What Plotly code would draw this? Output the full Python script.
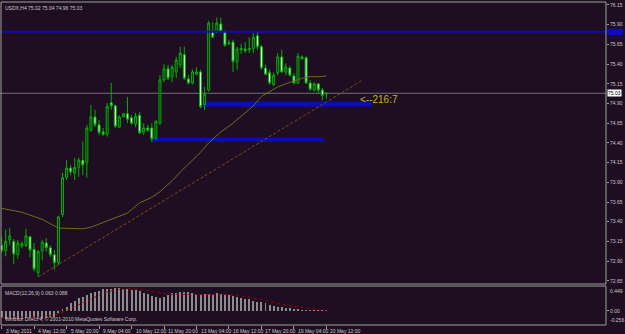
import plotly.graph_objects as go

# ---------------- data ----------------
bar_idx = list(range(81))
opens = [73.10, 73.03, 73.17, 73.15, 72.98, 73.09, 73.10, 73.21, 73.05, 72.75,
         73.03, 73.13, 73.07, 72.98, 72.88, 73.49, 73.96, 74.08, 74.02, 74.09,
         74.18, 74.15, 74.56, 74.73, 74.63, 74.54, 74.51, 74.91, 74.87, 74.60,
         74.73, 74.77, 74.72, 74.64, 74.75, 74.54, 74.59, 74.59, 74.46, 74.65,
         75.20, 75.34, 75.24, 75.30, 75.39, 75.52, 75.21, 75.16, 75.27, 75.30,
         74.89, 75.07, 75.81, 75.80, 75.91, 75.81, 75.66, 75.68, 75.43, 75.58,
         75.59, 75.58, 75.60, 75.76, 75.62, 75.35, 75.29, 75.14, 75.29, 75.49,
         75.30, 75.35, 75.25, 75.16, 75.49, 75.48, 75.16, 75.07, 75.15, 75.07,
         75.02]
highs = [73.21, 73.30, 73.32, 73.18, 73.17, 73.15, 73.31, 73.22, 73.13, 73.04,
         73.17, 73.19, 73.10, 73.04, 73.47, 74.02, 74.18, 74.12, 74.21, 74.21,
         74.42, 74.63, 74.88, 74.82, 74.69, 74.59, 74.91, 75.16, 74.88, 74.75,
         74.78, 74.98, 74.75, 74.78, 74.79, 74.65, 74.63, 74.65, 74.69, 75.26,
         75.40, 75.39, 75.39, 75.49, 75.62, 75.62, 75.26, 75.33, 75.36, 75.33,
         75.11, 75.95, 75.93, 75.99, 75.99, 75.83, 75.71, 75.71, 75.62, 75.66,
         75.68, 75.74, 75.80, 75.80, 75.64, 75.39, 75.33, 75.29, 75.54, 75.58,
         75.41, 75.38, 75.29, 75.54, 75.51, 75.50, 75.20, 75.17, 75.16, 75.10,
         75.04]
lows = [73.01, 72.96, 73.10, 72.86, 72.93, 73.07, 73.08, 72.95, 72.77, 72.70,
        72.91, 73.02, 72.95, 72.79, 72.85, 73.46, 73.93, 73.99, 73.93, 73.97,
        73.99, 73.96, 74.54, 74.60, 74.50, 74.49, 74.48, 74.82, 74.59, 74.59,
        74.72, 74.65, 74.63, 74.60, 74.51, 74.50, 74.54, 74.41, 74.44, 74.63,
        75.17, 75.20, 75.17, 75.22, 75.35, 75.20, 75.14, 75.14, 75.26, 74.84,
        74.82, 75.05, 75.73, 75.80, 75.80, 75.62, 75.64, 75.30, 75.33, 75.53,
        75.54, 75.54, 75.54, 75.58, 75.33, 75.26, 75.14, 75.12, 75.26, 75.29,
        75.26, 75.24, 75.14, 75.15, 75.45, 75.15, 75.06, 75.05, 75.02, 74.94,
        74.96]
closes = [73.03, 73.15, 73.22, 72.99, 73.13, 73.12, 73.22, 73.04, 72.80, 73.02,
          73.14, 73.07, 72.98, 72.88, 73.46, 73.96, 74.08, 74.03, 74.09, 74.18,
          74.12, 74.59, 74.73, 74.63, 74.53, 74.51, 74.86, 74.87, 74.61, 74.73,
          74.77, 74.70, 74.65, 74.74, 74.53, 74.59, 74.56, 74.45, 74.67, 75.20,
          75.34, 75.22, 75.36, 75.45, 75.54, 75.22, 75.16, 75.30, 75.30, 74.86,
          75.02, 75.92, 75.74, 75.92, 75.81, 75.64, 75.67, 75.43, 75.59, 75.60,
          75.57, 75.60, 75.74, 75.62, 75.35, 75.27, 75.16, 75.26, 75.49, 75.30,
          75.36, 75.26, 75.16, 75.50, 75.47, 75.16, 75.08, 75.15, 75.07, 75.00,
          75.03]

# moving average readings (bar index, price)
ma_bars = [0, 5, 10, 14, 20, 22, 25, 28, 31, 34, 37, 39, 42, 44, 47, 49, 51, 54,
           57, 59, 62, 64, 66, 68, 70, 72, 74, 76, 78, 80]
ma_vals = [73.57, 73.52, 73.43, 73.32, 73.31, 73.33, 73.39, 73.45, 73.51, 73.64,
           73.71, 73.78, 73.92, 74.03, 74.18, 74.28, 74.40, 74.54, 74.65, 74.74,
           74.87, 74.99, 75.05, 75.11, 75.15, 75.19, 75.22, 75.24, 75.24, 75.25]

# trend line (bar index, price)
trend_bars = [9, 89]
trend_vals = [72.70, 75.20]

# MACD(12,26,9)
macd_main = [-0.136, -0.148, -0.148, -0.142, -0.148, -0.142, -0.130, -0.123, -0.136, -0.148,
             -0.142, -0.130, -0.117, -0.105, -0.045, 0.027, 0.075, 0.136, 0.184, 0.226,
             0.256, 0.280, 0.316, 0.347, 0.365, 0.389, 0.395, 0.401, 0.407, 0.407,
             0.401, 0.395, 0.383, 0.371, 0.353, 0.328, 0.298, 0.268, 0.244, 0.226,
             0.256, 0.286, 0.316, 0.328, 0.341, 0.341, 0.335, 0.322, 0.310, 0.304,
             0.298, 0.304, 0.310, 0.316, 0.310, 0.298, 0.286, 0.262, 0.244, 0.226,
             0.220, 0.208, 0.184, 0.166, 0.160, 0.136, 0.112, 0.093, 0.075, 0.063,
             0.057, 0.045, 0.033, 0.027, 0.015, 0.009, 0.009, 0.009, 0.015, 0.009,
             0.003]
macd_signal = [-0.117, -0.117, -0.123, -0.123, -0.123, -0.123, -0.123, -0.117, -0.117, -0.111,
               -0.105, -0.099, -0.087, -0.075, -0.057, -0.027, 0.009, 0.045, 0.075, 0.112,
               0.148, 0.178, 0.220, 0.256, 0.286, 0.316, 0.341, 0.365, 0.377, 0.389,
               0.395, 0.395, 0.395, 0.395, 0.389, 0.377, 0.365, 0.347, 0.335, 0.316,
               0.304, 0.298, 0.298, 0.298, 0.298, 0.304, 0.304, 0.304, 0.304, 0.304,
               0.304, 0.304, 0.304, 0.304, 0.304, 0.304, 0.298, 0.292, 0.286, 0.274,
               0.262, 0.250, 0.232, 0.214, 0.202, 0.184, 0.166, 0.148, 0.136, 0.118,
               0.106, 0.093, 0.081, 0.069, 0.057, 0.045, 0.033, 0.027, 0.015, 0.009,
               0.003]

price_ticks = [76.15, 75.90, 75.65, 75.40, 75.15, 74.90, 74.65, 74.40, 74.15,
               73.90, 73.65, 73.40, 73.15, 72.90, 72.65]
time_tick_bars = [0, 8, 16, 24, 32, 40, 48, 56, 64, 72, 80]
time_tick_labels = ["3 May 2011", "4 May 12:00", "5 May 20:00", "9 May 04:00",
                    "10 May 12:00", "11 May 20:00", "13 May 04:00", "16 May 12:00",
                    "17 May 20:00", "19 May 04:00", "20 May 12:00"]

hline_level = 75.81
zone_upper = (49.3, 91.2, 74.86, 74.925)
zone_lower = (37.0, 79.3, 74.415, 74.466)
last_price = 75.03
zone_text = "<--216:7"

# ---------------- style ----------------
W, H = 625, 334
BG = "#1f0e21"
FRAME = "#a0a0a0"
TXT = "#c8c8c8"
GREEN = "#00b000"
BLUE = "#0c0cb8"
FONT = "Liberation Sans"


def px(x):
    return x / W


def py(y):
    return 1 - y / H


x_dom = [px(1), px(606)]
price_dom = [py(284), py(2)]
macd_dom = [py(325), py(286)]
x_range = [(1 - 1.6) / 4.06, (606 - 1.6) / 4.06]

fig = go.Figure()

fig.add_trace(go.Candlestick(
    x=bar_idx, open=opens, high=highs, low=lows, close=closes,
    increasing=dict(line=dict(color=GREEN, width=1), fillcolor="#0e2a12"),
    decreasing=dict(line=dict(color=GREEN, width=1), fillcolor="#e8ffe8"),
    whiskerwidth=0, xaxis="x", yaxis="y", showlegend=False, hoverinfo="skip"))

fig.add_trace(go.Scatter(x=ma_bars, y=ma_vals, mode="lines",
                         line=dict(color="#66701c", width=1),
                         xaxis="x", yaxis="y", showlegend=False, hoverinfo="skip"))
fig.add_trace(go.Scatter(x=trend_bars, y=trend_vals, mode="lines",
                         line=dict(color="#7a4c24", width=1, dash="3px,2px"),
                         xaxis="x", yaxis="y", showlegend=False, hoverinfo="skip"))

fig.add_trace(go.Bar(x=bar_idx, y=macd_main, width=0.24,
                     marker=dict(color="#8c8c8c", line=dict(width=0)),
                     xaxis="x2", yaxis="y2", showlegend=False, hoverinfo="skip"))
fig.add_trace(go.Scatter(x=bar_idx, y=macd_signal, mode="lines",
                         line=dict(color="#a00000", width=1, dash="dot"),
                         xaxis="x2", yaxis="y2", showlegend=False, hoverinfo="skip"))

shapes = []
# zones
for (x0, x1, y0, y1) in (zone_upper, zone_lower):
    shapes.append(dict(type="rect", xref="x", yref="y", x0=x0, x1=x1, y0=y0, y1=y1,
                       fillcolor=BLUE, line=dict(width=0), layer="below"))
# last price line
shapes.append(dict(type="line", xref="paper", yref="y", x0=0, x1=x_dom[1],
                   y0=last_price, y1=last_price, line=dict(color="#707070", width=1),
                   layer="below"))
# horizontal blue line
shapes.append(dict(type="line", xref="paper", yref="y", x0=x_dom[0], x1=x_dom[1],
                   y0=hline_level, y1=hline_level, line=dict(color=BLUE, width=2),
                   layer="above"))
shapes.append(dict(type="rect", xref="paper", yref="y", x0=px(607), x1=px(623),
                   y0=hline_level - 0.04, y1=hline_level + 0.04,
                   fillcolor=BLUE, line=dict(width=0)))
# frames
for (y0, y1) in ((2, 284), (286, 325)):
    shapes.append(dict(type="rect", xref="paper", yref="paper",
                       x0=px(1), x1=px(606), y0=py(y1), y1=py(y0),
                       line=dict(color=FRAME, width=1), fillcolor="rgba(0,0,0,0)"))

fig.update_layout(shapes=shapes)

ann = []
ann.append(dict(text="USDX,H4 75.02 75.04 74.96 75.03", xref="paper", yref="paper",
                x=px(3), y=py(3), xanchor="left", yanchor="top", showarrow=False,
                font=dict(family=FONT, size=5, color=TXT)))
ann.append(dict(text="MACD(12,26,9) 0.063 0.088", xref="paper", yref="paper",
                x=px(3), y=py(287.5), xanchor="left", yanchor="top", showarrow=False,
                font=dict(family=FONT, size=5, color=TXT)))
ann.append(dict(text="Windsor Direct 4, © 2001-2010 MetaQuotes Software Corp.",
                xref="paper", yref="paper", x=px(3), y=py(324), xanchor="left",
                yanchor="bottom", showarrow=False,
                font=dict(family=FONT, size=5, color=TXT)))
ann.append(dict(text=zone_text, xref="x", yref="y", x=87.7, y=74.95,
                xanchor="left", yanchor="middle", showarrow=False,
                font=dict(family=FONT, size=10, color="#c0b81c")))
ann.append(dict(text="%.2f" % last_price, xref="paper", yref="y", x=px(607),
                y=last_price, xanchor="left", yanchor="middle", showarrow=False,
                bgcolor="#ffffff", borderpad=0,
                font=dict(family=FONT, size=5, color="#000000")))
ann.append(dict(text="0.449", xref="paper", yref="y2", x=px(608), y=0.449,
                xanchor="left", yanchor="top", showarrow=False,
                font=dict(family=FONT, size=5, color=TXT)))
ann.append(dict(text="-0.256", xref="paper", yref="y2", x=px(608), y=-0.256,
                xanchor="left", yanchor="bottom", showarrow=False,
                font=dict(family=FONT, size=5, color=TXT)))
for b, lab in zip(time_tick_bars, time_tick_labels):
    ann.append(dict(text=lab, xref="x2", yref="paper", x=b + 0.5, y=py(326),
                    xanchor="left", yanchor="top", showarrow=False,
                    font=dict(family=FONT, size=5, color=TXT)))
fig.update_layout(annotations=ann)

fig.update_layout(
    width=W, height=H, margin=dict(l=0, r=0, t=0, b=0),
    paper_bgcolor=BG, plot_bgcolor=BG, showlegend=False,
    bargap=0,
    xaxis=dict(domain=x_dom, range=x_range, showgrid=False, zeroline=False,
               showticklabels=False, ticks="", rangeslider=dict(visible=False),
               anchor="y", fixedrange=True),
    xaxis2=dict(domain=x_dom, range=x_range, showgrid=False, zeroline=False,
                showticklabels=False, ticks="outside", ticklen=3, tickcolor=FRAME,
                tickvals=time_tick_bars, anchor="y2", matches="x"),
    yaxis=dict(domain=price_dom, range=[72.6096, 76.188], side="right",
               showgrid=False, zeroline=False, tickvals=price_ticks,
               ticktext=["%.2f" % v for v in price_ticks], ticks="outside",
               ticklen=2, tickcolor=FRAME, tickfont=dict(family=FONT, size=5, color=TXT),
               anchor="x"),
    yaxis2=dict(domain=macd_dom, range=[-0.256, 0.449], side="right",
                showgrid=False, zeroline=False, tickvals=[0.0], ticktext=["0.00"],
                ticks="outside", ticklen=2, tickcolor=FRAME,
                tickfont=dict(family=FONT, size=5, color=TXT), anchor="x2"),
)

fig.write_html("out.html")
